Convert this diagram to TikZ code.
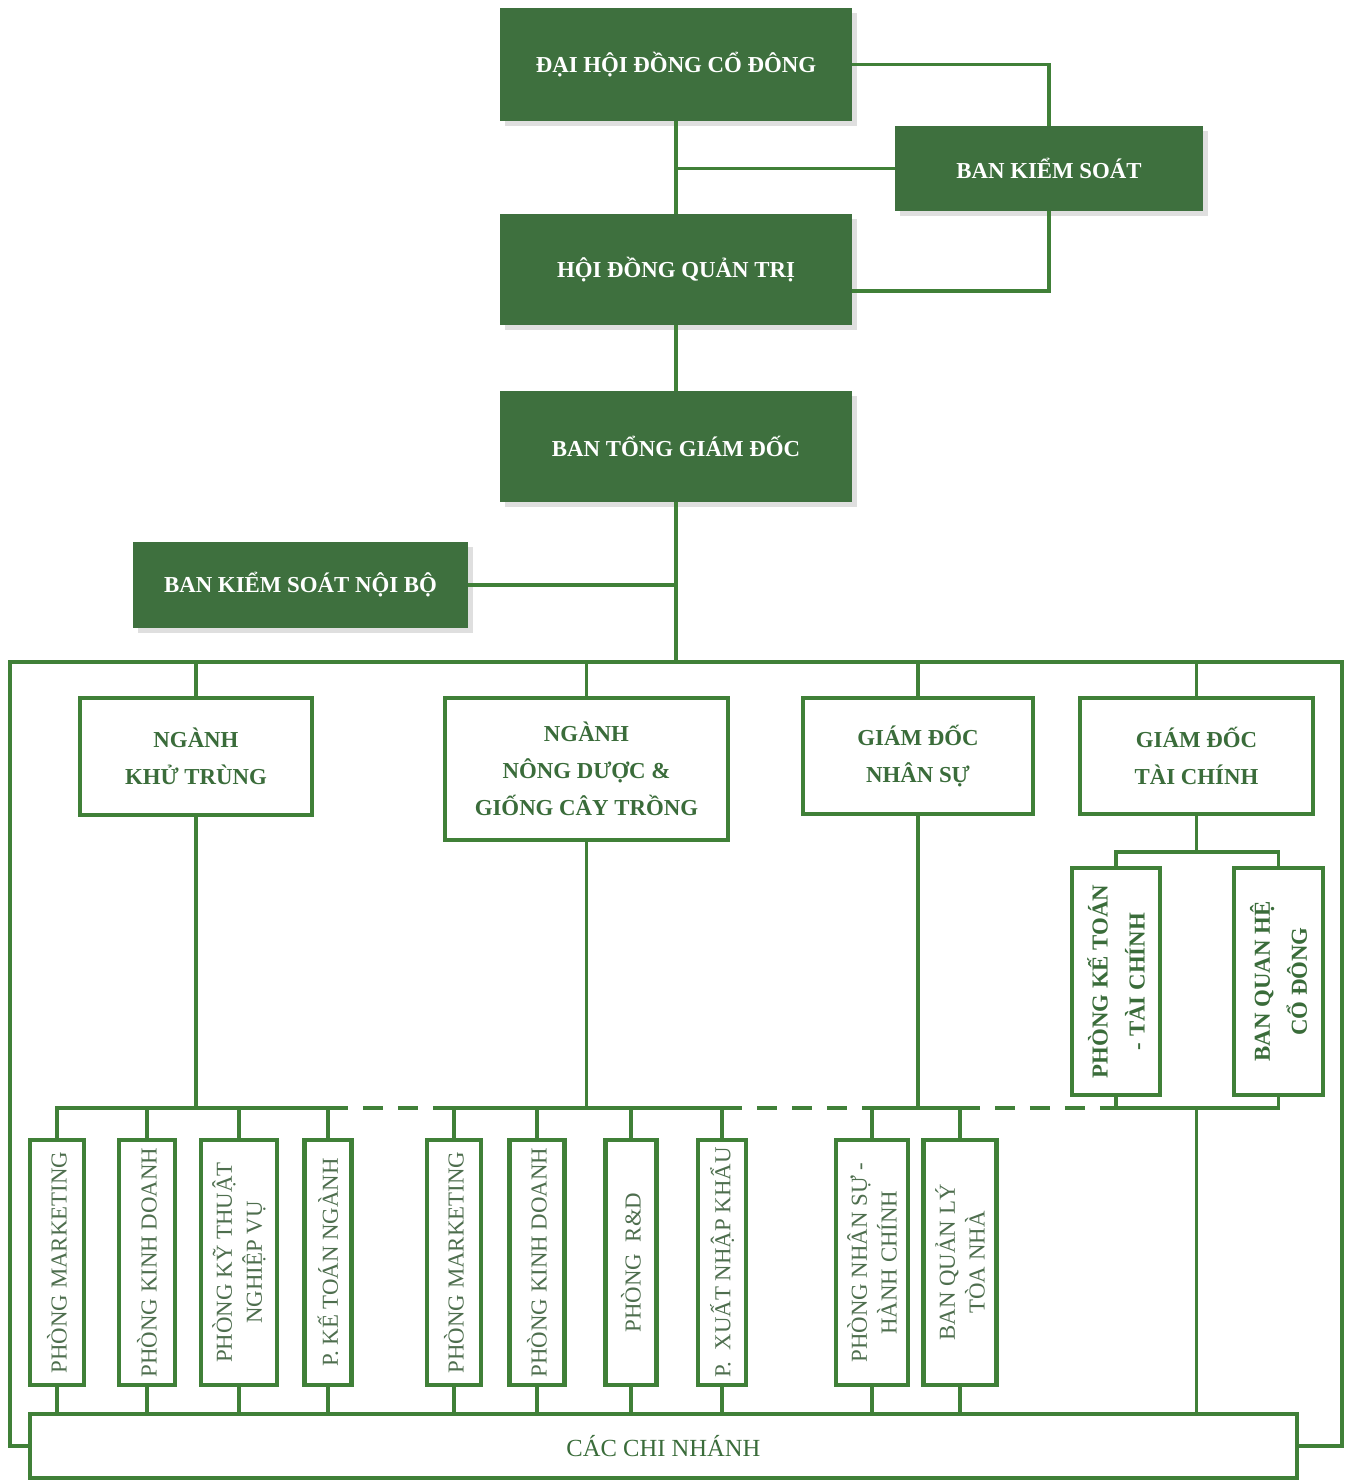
\documentclass[tikz,border=0pt]{standalone}
\usepackage{fontspec}
\setmainfont{Liberation Serif}
\usepackage{tikz}
\usetikzlibrary{shapes,shadows}
\definecolor{darkgreen}{RGB}{62,112,62}
\definecolor{linegreen}{RGB}{64,128,56}
\definecolor{textgreen}{RGB}{58,108,58}
\definecolor{deptgreen}{RGB}{78,110,78}
\tikzstyle{topbox}=[rectangle,fill=darkgreen,text=white,font=\fontsize{13}{16}\selectfont\bfseries,drop shadow={opacity=0.25,shadow xshift=3pt,shadow yshift=-3pt}]
\tikzstyle{unitbox}=[rectangle,draw=linegreen,line width=2.6pt,fill=white,text=textgreen,align=center,font=\fontsize{13}{21}\selectfont\bfseries]
\tikzstyle{deptbox}=[rectangle,draw=linegreen,line width=2.6pt,fill=white,text=deptgreen,align=center,rotate=90,minimum width=4.9cm,inner xsep=0pt,inner ysep=2pt,font=\fontsize{13}{17}\selectfont]
\tikzstyle{edge} = [draw=linegreen,line width=2.2pt]
\tikzstyle{dashline} = [draw=linegreen,line width=2.4pt,dash pattern=on 0.4cm off 0.3cm]

\begin{document}
\begin{tikzpicture}[x=0.02cm,y=-0.02cm]
        \useasboundingbox (0,0) rectangle (1345,1482);
        \node[topbox,minimum width=7.04cm,minimum height=2.26cm] (dhdcd) at (676,64.5) {ĐẠI HỘI ĐỒNG CỔ ĐÔNG};
        \node[topbox,minimum width=6.16cm,minimum height=1.7cm] (bks) at (1049,168.5) {BAN KIỂM SOÁT};
        \node[topbox,minimum width=7.04cm,minimum height=2.22cm] (hdqt) at (676,269.5) {HỘI ĐỒNG QUẢN TRỊ};
        \node[topbox,minimum width=7.04cm,minimum height=2.22cm] (btgd) at (676,446.5) {BAN TỔNG GIÁM ĐỐC};
        \node[topbox,minimum width=6.7cm,minimum height=1.72cm] (bksnb) at (300.5,585) {BAN KIỂM SOÁT NỘI BỘ};
        \coordinate (bus) at (676,662);
        \coordinate (busl) at (10,662);
        \coordinate (busr) at (1342,662);

        \node[unitbox,minimum width=4.64cm,minimum height=2.34cm] (nkt) at (196,756.5) {NGÀNH\\KHỬ TRÙNG};
        \node[unitbox,minimum width=5.66cm,minimum height=2.84cm] (nnd) at (586.5,769) {NGÀNH\\NÔNG DƯỢC \&\\GIỐNG CÂY TRỒNG};
        \node[unitbox,minimum width=4.6cm,minimum height=2.32cm] (gdns) at (918,756) {GIÁM ĐỐC\\NHÂN SỰ};
        \node[unitbox,minimum width=4.66cm,minimum height=2.32cm] (gdtc) at (1196.5,756) {GIÁM ĐỐC\\TÀI CHÍNH};

        \node[deptbox,minimum height=1.08cm] (mk1) at (57,1262.5) {PHÒNG MARKETING};
        \node[deptbox,minimum height=1.12cm] (kd1) at (147,1262.5) {PHÒNG KINH DOANH};
        \node[deptbox,minimum height=1.52cm] (kt1) at (239,1262.5) {PHÒNG KỸ THUẬT\\NGHIỆP VỤ};
        \node[deptbox,minimum height=0.94cm] (ktn1) at (328,1262.5) {P. KẾ TOÁN NGÀNH};
        \node[deptbox,minimum height=1.08cm] (mk2) at (454,1262.5) {PHÒNG MARKETING};
        \node[deptbox,minimum height=1.1cm] (kd2) at (537,1262.5) {PHÒNG KINH DOANH};
        \node[deptbox,minimum height=1.02cm] (rd2) at (631,1262.5) {PHÒNG~~R\&D};
        \node[deptbox,minimum height=0.96cm] (xnk2) at (722,1262.5) {P.~~XUẤT NHẬP KHẨU};
        \node[deptbox,minimum height=1.44cm] (ns3) at (872,1262.5) {PHÒNG NHÂN SỰ -\\HÀNH CHÍNH};
        \node[deptbox,minimum height=1.46cm] (ql3) at (960,1262.5) {BAN QUẢN LÝ\\TÒA NHÀ};

        \node[deptbox,text=textgreen,font=\fontsize{13}{21}\selectfont\bfseries,minimum width=4.54cm,minimum height=1.76cm] (ktc) at (1116,981.5) {PHÒNG KẾ TOÁN\\- TÀI CHÍNH};
        \node[deptbox,text=textgreen,font=\fontsize{13}{21}\selectfont\bfseries,minimum width=4.54cm,minimum height=1.78cm] (qhcd) at (1278.5,981.5) {BAN QUAN HỆ\\CỔ ĐÔNG};

        \node[unitbox,font=\fontsize{14}{16}\selectfont,minimum width=25.34cm,minimum height=1.28cm] (cn) at (663.5,1446) {CÁC CHI NHÁNH};

        \draw[edge] (dhdcd) to (hdqt);
        \draw[edge] (bks) to (bks -| dhdcd);
        \draw[edge] (dhdcd) -| (bks);
        \draw[edge] (bks) |- (hdqt.-7);
        \draw[edge] (hdqt) to (btgd);
        \draw[edge] (btgd) to (bus);
        \draw[edge] (bksnb) to (bksnb -| bus);
        \draw[edge] (cn) -| (busl) to (busr) |- (cn);
        \foreach \u in {nkt,nnd,gdns,gdtc}
          \draw[edge] (\u) to (\u |- bus);

        \coordinate (g1) at (196,1108);
        \coordinate (g2) at (586.5,1108);
        \coordinate (g3) at (918,1108);
        \coordinate (tc1) at (1196.5,852);
        \coordinate (tc2) at (1196.5,1108);
        \draw[edge] (nkt) to (g1);
        \draw[edge] (nnd) to (g2);
        \draw[edge] (gdns) to (g3);
        \draw[edge] (gdtc) to (tc1);
        \draw[edge] (mk1) |- (g1) -| (ktn1);
        \draw[edge] (kd1) to (kd1 |- g1);
        \draw[edge] (kt1) to (kt1 |- g1);
        \draw[edge] (mk2) |- (g2) -| (xnk2);
        \draw[edge] (kd2) to (kd2 |- g2);
        \draw[edge] (rd2) to (rd2 |- g2);
        \draw[edge] (ns3) |- (g3) -| (ql3);
        \draw[edge] (ktc) |- (tc1) -| (qhcd);
        \draw[edge] (ktc) |- (tc2) -| (qhcd);
        \draw[edge] (tc2) to (tc2 |- cn.north);
        \foreach \d in {mk1,kd1,kt1,ktn1,mk2,kd2,rd2,xnk2,ns3,ql3}
          \draw[edge] (\d) to (\d |- cn.north);

        \draw[dashline] (ktn1 |- g1) to (mk2 |- g2);
        \draw[dashline] (xnk2 |- g2) to (ns3 |- g3);
        \draw[dashline] (ql3 |- g3) to (ktc |- tc2);
      \end{tikzpicture}
\end{document}
